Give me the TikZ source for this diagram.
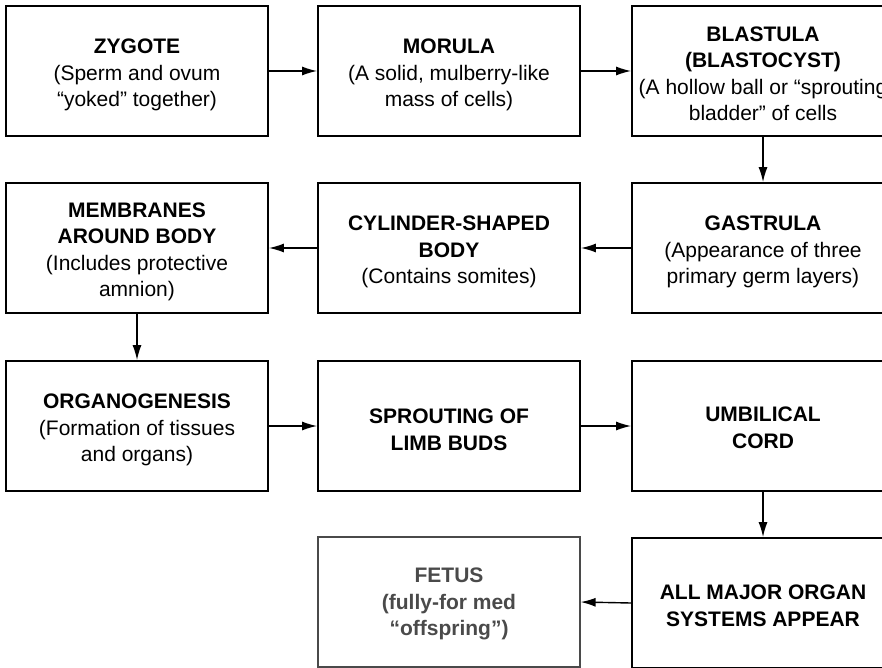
\documentclass[tikz,border=0pt]{standalone}
\usepackage{fontspec}
\setmainfont{Liberation Sans}
\usetikzlibrary{arrows.meta}
\definecolor{fetusgray}{HTML}{4A4A4A}
\begin{document}
\begin{tikzpicture}[x=1pt,y=-1pt,
  stagebox/.style={draw=black, line width=1.8pt, minimum width=262pt, minimum height=130pt, inner sep=0pt},
  stagetext/.style={inner sep=0pt, align=center, font=\fontsize{21}{26.5}\selectfont},
  flow/.style={line width=1.4pt, -{Latex[length=15pt,width=9pt]}}]
\useasboundingbox (0,0) rectangle (882,668);
\clip (0,0) rectangle (882,668);
% boxes
\node[stagebox] (zyg) at (137,71) {};
\node[stagebox] (mor) at (449,71) {};
\node[stagebox] (bla) at (763,71) {};
\node[stagebox] (mem) at (137,248) {};
\node[stagebox] (cyl) at (449,248) {};
\node[stagebox] (gas) at (763,248) {};
\node[stagebox] (org) at (137,426) {};
\node[stagebox] (spr) at (449,426) {};
\node[stagebox] (umb) at (763,426) {};
\node[stagebox, draw=fetusgray, line width=1.2pt] (fet) at (449,602) {};
\node[stagebox] (all) at (763,603) {};
% texts
\node[stagetext] (tzyg) at (137,75) {\textbf{ZYGOTE}\\(Sperm and ovum\\“yoked” together)};
\node[stagetext] (tmor) at (449,75) {\textbf{MORULA}\\(A solid, mulberry-like\\mass of cells)};
\node[stagetext] (tbla) at (763,74) {\textbf{BLASTULA}\\\textbf{(BLASTOCYST)}\\(A hollow ball or “sprouting\\bladder” of cells};
\node[stagetext] (tmem) at (137,252) {\textbf{MEMBRANES}\\\textbf{AROUND BODY}\\(Includes protective\\amnion)};
\node[stagetext] (tcyl) at (449,252) {\textbf{CYLINDER-SHAPED}\\\textbf{BODY}\\(Contains somites)};
\node[stagetext] (tgas) at (763,252) {\textbf{GASTRULA}\\(Appearance of three\\primary germ layers)};
\node[stagetext] (torg) at (137,430) {\textbf{ORGANOGENESIS}\\(Formation of tissues\\and organs)};
\node[stagetext] (tspr) at (449,430) {\textbf{SPROUTING OF}\\\textbf{LIMB BUDS}};
\node[stagetext] (tumb) at (763,428) {\textbf{UMBILICAL}\\\textbf{CORD}};
\node[stagetext, text=fetusgray] (tfet) at (449,604) {\textbf{FETUS}\\\textbf{(fully-for med}\\\textbf{“offspring”)}};
\node[stagetext] (tall) at (763,606) {\textbf{ALL MAJOR ORGAN}\\\textbf{SYSTEMS APPEAR}};
% connectors
\draw[flow] (zyg) -- (mor);
\draw[flow] (mor) -- (bla);
\draw[flow] (bla) -- (gas);
\draw[flow] (gas) -- (cyl);
\draw[flow] (cyl) -- (mem);
\draw[flow] (mem) -- (org);
\draw[flow] (org) -- (spr);
\draw[flow] (spr) -- (umb);
\draw[flow] (umb) -- (all);
\draw[flow] (all.west) -- (fet.east);
\end{tikzpicture}
\end{document}
